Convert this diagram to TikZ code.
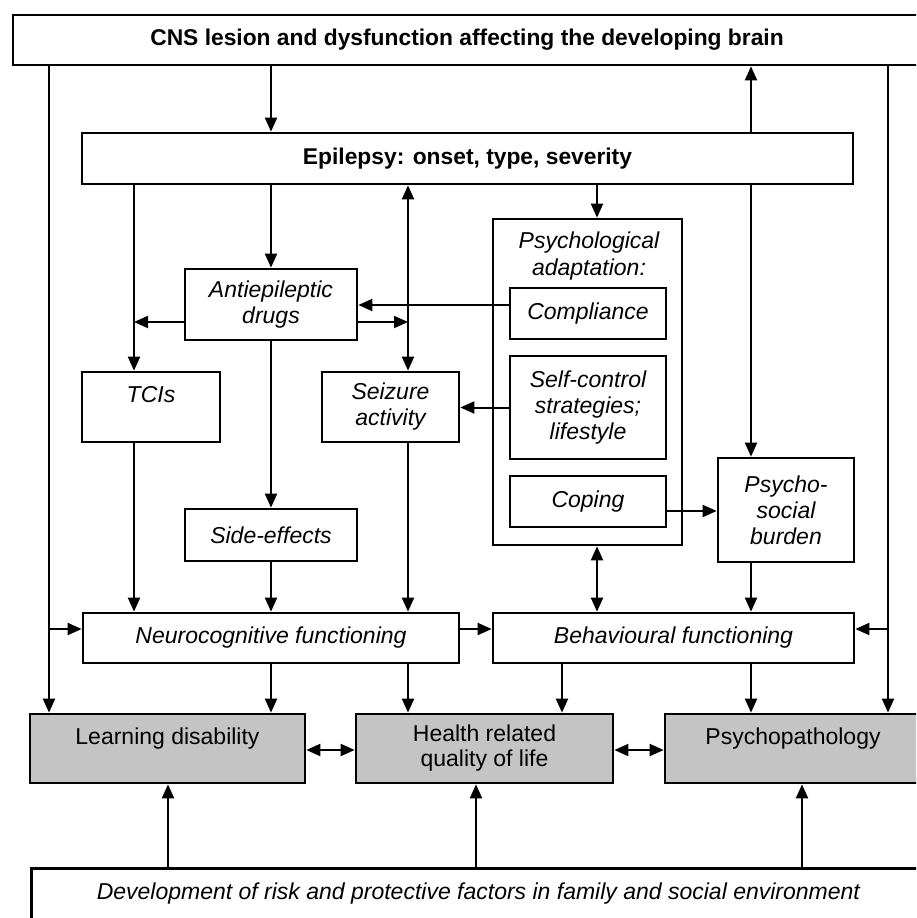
\documentclass[tikz,border=0pt]{standalone}
\usepackage{fontspec}
\setmainfont{Liberation Sans}
\usetikzlibrary{arrows.meta}
\definecolor{boxgray}{RGB}{196,196,196}
\begin{document}
\begin{tikzpicture}[x=1pt,y=-1pt,
  box/.style={draw, line width=2.7pt, fill=white, inner sep=0pt, align=center,
    font=\fontsize{23}{26}\selectfont\itshape},
  gbox/.style={box, fill=boxgray, font=\fontsize{23}{25}\selectfont},
  arr/.style={line width=2pt, -{Triangle[length=14pt,width=12pt]}},
  darr/.style={line width=2pt, {Triangle[length=14pt,width=12pt]}-{Triangle[length=14pt,width=12pt]}}]
\useasboundingbox (0,0) rectangle (916,918);
\clip (0,0) rectangle (916,918);

% guide positions for the connectors
\coordinate (xL) at (49,0);
\coordinate (x134) at (134,0);
\coordinate (x168) at (168,0);
\coordinate (x271) at (271,0);
\coordinate (x408) at (408,0);
\coordinate (x476) at (476,0);
\coordinate (x562) at (562,0);
\coordinate (x597) at (597,0);
\coordinate (x751) at (751,0);
\coordinate (x802) at (802,0);
\coordinate (xR) at (888,0);
\coordinate (yc) at (0,305);
\coordinate (ya) at (0,322);
\coordinate (yk) at (0,511);
\coordinate (yb) at (0,629);
\coordinate (yd) at (0,750);

% boxes
\node[box, font=\fontsize{22.8}{26}\selectfont\bfseries, minimum width=908pt, minimum height=50pt] (cns) at (467,40)
  {CNS lesion and dysfunction affecting the developing brain};
\node[box, font=\fontsize{22.8}{26}\selectfont\bfseries, minimum width=771pt, minimum height=51pt] (epi) at (467.5,158.5)
  {Epilepsy: onset, type, severity};
\node[box, minimum width=172pt, minimum height=71pt] (aed) at (271,304.5) {Antiepileptic\\drugs};
\node[box, minimum width=138pt, minimum height=70pt] (tci) at (151,407) {TCIs\\\mbox{}};
\node[box, minimum width=137pt, minimum height=70pt] (seiz) at (390.5,407) {Seizure\\activity};
\node[box, minimum width=172pt, minimum height=52pt] (side) at (271,535) {Side-effects};

\node[box, minimum width=189pt, minimum height=326pt] (psyad) at (587.5,382) {};
\node[align=center, inner sep=0pt, font=\fontsize{23}{27}\selectfont\itshape] (psytitle) at (589,256)
  {Psychological\\adaptation:};
\node[box, minimum width=156pt, minimum height=51pt] (comp) at (588,313.5) {Compliance};
\node[box, minimum width=156pt, minimum height=103pt] (self) at (588,407.5) {Self-control\\strategies;\\lifestyle};
\node[box, minimum width=156pt, minimum height=51pt] (cope) at (588,501.5) {Coping};

\node[box, minimum width=136pt, minimum height=104pt] (burden) at (786,510) {Psycho-\\social\\burden};

\node[box, minimum width=376pt, minimum height=50pt] (neuro) at (271,638) {Neurocognitive functioning};
\node[box, minimum width=361pt, minimum height=50pt] (behav) at (673.5,638) {Behavioural functioning};

\node[gbox, minimum width=275pt, minimum height=69pt] (ld) at (167.5,748.5) {Learning disability\\\mbox{}};
\node[gbox, minimum width=257pt, minimum height=69pt] (hrqol) at (484.5,748.5) {Health related\\quality of life};
\node[gbox, minimum width=256pt, minimum height=69pt] (psyc) at (793,748.5) {Psychopathology\\\mbox{}};

\node[box, anchor=north west, minimum width=894pt, text height=31pt, text depth=39pt] (env) at (30,867)
  {Development of risk and protective factors in family and social environment};

% connectors from the top
\draw[arr] (cns.south -| x271) -- (epi.north -| x271);
\draw[arr] (epi.north -| x751) -- (cns.south -| x751);
\draw[arr] (cns.south -| xL) -- (ld.north -| xL);
\draw[arr] (cns.south -| xR) -- (psyc.north -| xR);
\draw[arr] (xL |- yb) -- (neuro.west |- yb);
\draw[arr] (xR |- yb) -- (behav.east |- yb);

% connectors from epilepsy
\draw[arr] (epi.south -| x134) -- (tci.north -| x134);
\draw[arr] (epi.south -| x271) -- (aed.north -| x271);
\draw[darr] (epi.south -| x408) -- (seiz.north -| x408);
\draw[arr] (epi.south -| x597) -- (psyad.north -| x597);
\draw[arr] (epi.south -| x751) -- (burden.north -| x751);

% middle layer
\draw[arr] (aed.west |- ya) -- (x134 |- ya);
\draw[arr] (aed.east |- ya) -- (x408 |- ya);
\draw[arr] (comp.west |- yc) -- (aed.east |- yc);
\draw[arr] (self.west) -- (seiz.east |- self.west);
\draw[arr] (aed.south -| x271) -- (side.north -| x271);
\draw[arr] (cope.east |- yk) -- (burden.west |- yk);

% into the functioning boxes
\draw[arr] (tci.south -| x134) -- (neuro.north -| x134);
\draw[arr] (side.south -| x271) -- (neuro.north -| x271);
\draw[arr] (seiz.south -| x408) -- (neuro.north -| x408);
\draw[darr] (psyad.south -| x597) -- (behav.north -| x597);
\draw[arr] (burden.south -| x751) -- (behav.north -| x751);
\draw[arr] (neuro.east |- yb) -- (behav.west |- yb);

% outcomes
\draw[arr] (neuro.south -| x271) -- (ld.north -| x271);
\draw[arr] (neuro.south -| x408) -- (hrqol.north -| x408);
\draw[arr] (behav.south -| x562) -- (hrqol.north -| x562);
\draw[arr] (behav.south -| x751) -- (psyc.north -| x751);
\draw[darr] (ld.east |- yd) -- (hrqol.west |- yd);
\draw[darr] (hrqol.east |- yd) -- (psyc.west |- yd);

% environment
\draw[arr] (env.north -| x168) -- (ld.south -| x168);
\draw[arr] (env.north -| x476) -- (hrqol.south -| x476);
\draw[arr] (env.north -| x802) -- (psyc.south -| x802);
\end{tikzpicture}
\end{document}
